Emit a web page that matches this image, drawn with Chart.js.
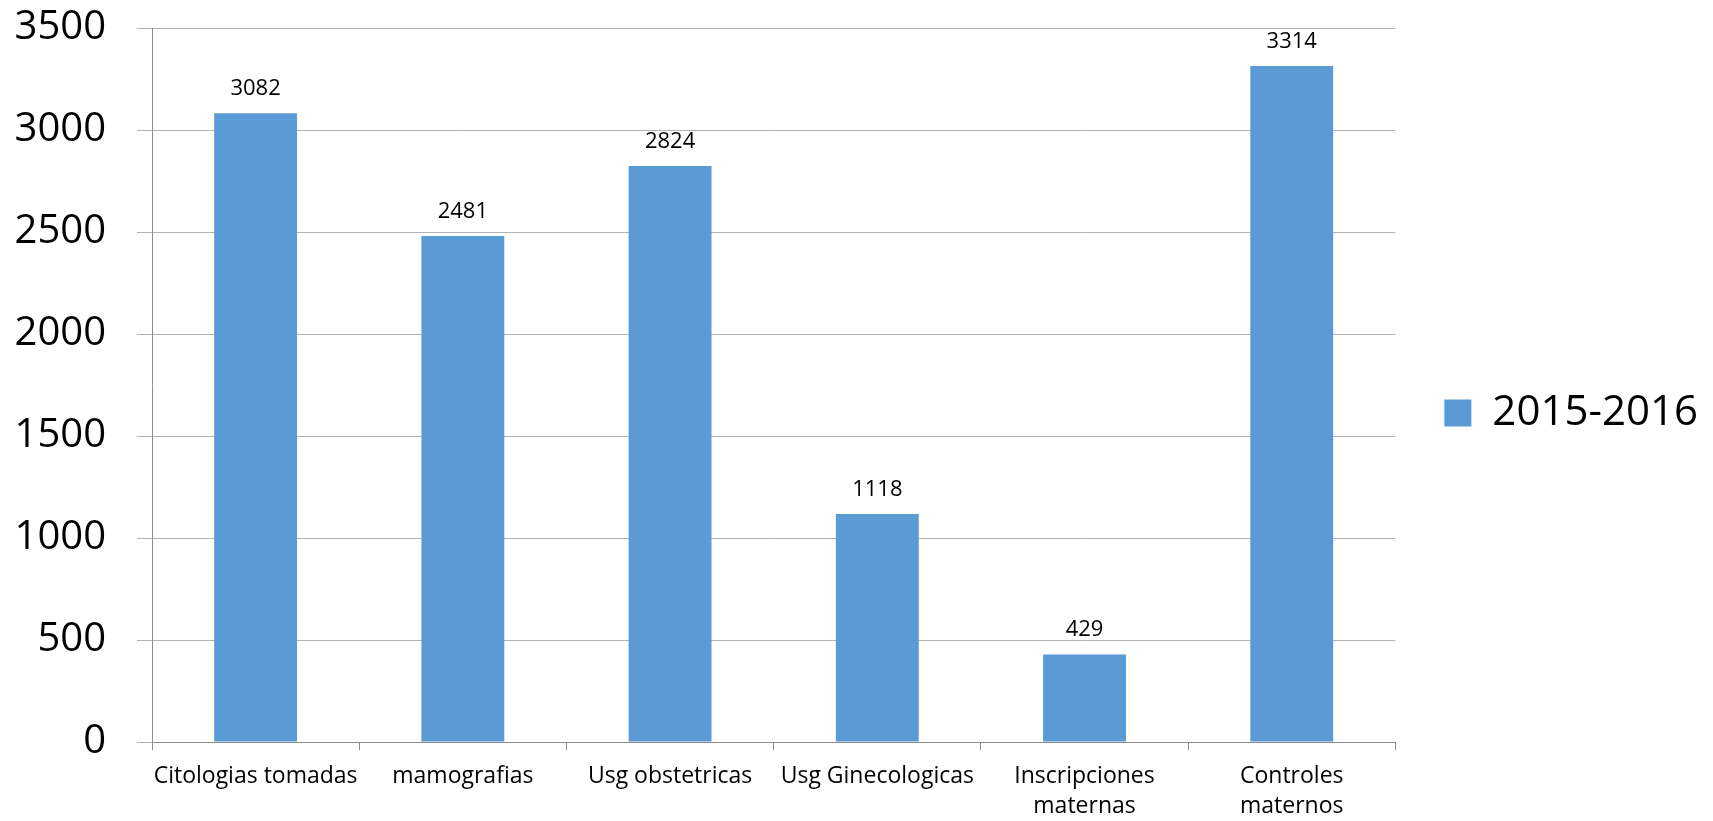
<!DOCTYPE html>
<html>
<head>
<meta charset="utf-8">
<script src="https://cdn.jsdelivr.net/npm/chart.js@4.4.1/dist/chart.umd.min.js"></script>
<style>
  body { margin: 0; background: #fff; }
  canvas { display: block; }
</style>
</head>
<body>
<canvas id="myChart" width="1713" height="821"></canvas>
<script>
var categories = ['Citologias tomadas', 'mamografias', 'Usg obstetricas', 'Usg Ginecologicas', ['Inscripciones', 'maternas'], ['Controles', 'maternos']];
var values = [3082, 2481, 2824, 1118, 429, 3314];
var seriesName = '2015-2016';
var yTicks = [0, 500, 1000, 1500, 2000, 2500, 3000, 3500];

var FONT = '"Open Sans", "DejaVu Sans", sans-serif';

// value above each bar
var barLabels = {
  id: 'barLabels',
  afterDatasetsDraw: function (chart) {
    var ctx = chart.ctx;
    ctx.save();
    ctx.font = '22px ' + FONT;
    ctx.fillStyle = '#000';
    ctx.textAlign = 'center';
    ctx.textBaseline = 'alphabetic';
    chart.getDatasetMeta(0).data.forEach(function (bar, i) {
      ctx.fillText(values[i], bar.x, bar.y - 18);
    });
    ctx.restore();
  }
};

var ctx = document.getElementById('myChart');
var myChart = new Chart(ctx, {
  type: 'bar',
  data: {
    labels: categories,
    datasets: [{
      label: seriesName,
      data: values,
      backgroundColor: '#5B9BD5',
      borderWidth: 0,
      barPercentage: 0.4,
      categoryPercentage: 1
    }]
  },
  options: {
    responsive: false,
    devicePixelRatio: 1,
    animation: false,
    layout: { padding: { top: 28, right: 5, bottom: 0, left: 12 } },
    plugins: {
      tooltip: { enabled: false },
      legend: {
        position: 'right',
        fullSize: false,
        // empty title only pushes the item down a little
        title: { display: true, text: '', padding: 0, font: { size: 40, lineHeight: 1.4 } },
        labels: {
          boxWidth: 27,
          boxHeight: 27,
          padding: 49,
          color: '#000',
          font: { family: FONT, size: 42 }
        }
      }
    },
    scales: {
      x: {
        grid: { display: true, drawOnChartArea: false, offset: true, tickLength: 8, color: '#8c8c8c' },
        border: { display: true, color: '#8c8c8c' },
        ticks: {
          color: '#000',
          maxRotation: 0,
          autoSkip: false,
          padding: 12,
          font: { family: FONT, size: 23, lineHeight: 1.3 }
        },
        afterFit: function (s) { s.height = 79; }
      },
      y: {
        min: 0,
        max: 3500,
        afterBuildTicks: function (s) { s.ticks = yTicks.map(function (v) { return { value: v }; }); },
        grid: { color: '#b3b3b3', tickLength: 15 },
        border: { display: true, color: '#8c8c8c' },
        ticks: {
          color: '#000',
          padding: 31,
          font: { family: FONT, size: 40 },
          callback: function (v) { return String(v); }
        },
        afterFit: function (s) {
          s.width = 140;
          s.paddingTop = 20;
          s.paddingBottom = 20;
        }
      }
    }
  },
  plugins: [barLabels]
});
</script>
</body>
</html>
